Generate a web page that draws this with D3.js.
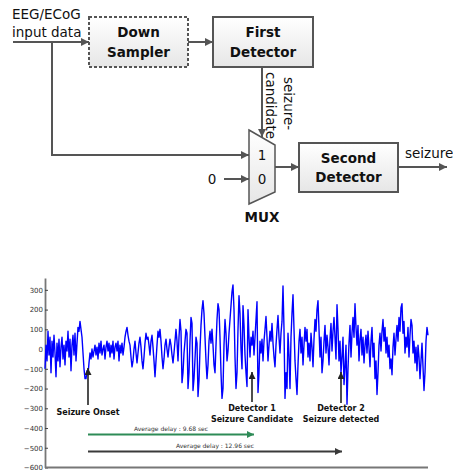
<!DOCTYPE html>
<html>
<head>
<meta charset="utf-8">
<script src="https://cdn.jsdelivr.net/npm/d3@7"></script>
<style>
  body { margin: 0; background: #fff; }
  svg { display: block; }
</style>
</head>
<body>
<div id="chart"></div>
<script>
// EEG trace (µV), one sample per pixel
const signal = [
  // before onset
  -100, 20, -60, 90, -30, 60, -120, 40, -40, 70, -20, -140, 30, -60, 50, -90, 10, 60, -50, 20,
  -80, 40, -10, 90, -40, 50, -110, 20, 70, -30, 80, -60, 30, 110, 90, 140, 100, 60, -20, -100, -150,
  // onset, low amplitude
  -150, -110, -130, -70, -20, -50, 0, -40, -10, 20, -30, 10, -50, 30, -20, 40, -30, 0, 20, -50,
  10, 40, -10, 30, -40, 20, -20, 40, -50, 10, 30, -10, 40, -60, 20, -20, 30, -30, 10, 60, 90, 110, 70,
  // growing rhythm
  40, 20, -40, -90, -60, 0, 40, -20, -70, -20, 30, 60, 10, -60, -100, -40, 30, 80, 50, 60,
  20, -30, 40, 70, 10, -60, -140, -60, 20, 90, 60, 100, 40, -40, -100, -50, 20, 50, 0, -40,
  10, 50, 20, -30, -70, -20, 40,
  // large swings
  100, 40, -60, 60, 150, 90, -170, -120, -20, 40, 100, 80, -200, -120, 40, 160, 130, -210, -150, -50,
  60, 30, -240, -160, 0, 120, 200, 245, 180, 60, -60, -150, -80, 40, 90, 30, 100, 20, -80, -120,
  20, 150, 230, 200, 60, -120, -250, -200, 20, 150, 80, -60, -10, 80, 150,
  220, 290, 325, 200, -40, -200, -120, 100, 270, 180, 0, -100, 220, 120, -30, -120, -190, 200, 60, -40,
  60, 20, 90, -30, 60, 150, 240, -220, -120, 40, -20, 50, -60, 40, 100, 165, 60, -60, 20, 90,
  40, 130, 30, -40, -90, 20, 100, 170, 60, -20, 80, 140, 320, 100, -250, -120, -200, 80, -30, -200,
  60, 180, 275, 100, -60, -150, -230, -80, 40, 100,
  // dense high-frequency part
  -20, 60, -80, 20, 110, 40, 100, -40, 30, -60, 80, 10, -90, 50, 150, 90, 200, 245, 100, -40,
  60, -120, -60, 40, 120, -20, 70, 10, -80, 50, 130, -10, 90, 160, 60, -50, 225, 100, -60, 40,
  -120, -40, 60, -180, -90, 20, -280, -100, 30, 120, -40, 80, 160, 60, 230, 110, 20, 120, -60, 50,
  100, -30, 60, -70, 20, 70, -20, 90, 10, -90, 40, 110, -40, 30, -150, -60, -230, -120, 20, 80,
  -10, 90, 150, 40, 110, -20, 60, -40, 20, -100, -50, -130, 10, 80, -30, 50, 120, 40, 160, 90,
  210, 230, 80, 140, -20, 60, 10, 110, -40, 70, 150, 120, -20, 40, -70, 10, -110, 20, -40, -150,
  -60, 30, -90, -210, -120, 40, 110, 70
];

const yTicks = [300, 200, 100, 0, -100, -200, -300, -400, -500, -600];

// markers on the trace: sample index and label lines
const eventIdx = [43, 207, 296];
const eventLines = [["Seizure Onset"], ["Detector 1", "Seizure Candidate"], ["Detector 2", "Seizure detected"]];

// delay arrows: from onset to detector
const delayFrom = [43, 43];
const delayTo = [209, 297];
const delayLabels = ["Average delay : 9.68 sec", "Average delay : 12.96 sec"];
const delayColors = ["#2e8b57", "#3a3a3a"];

const W = 453, H = 473;
const font = "DejaVu Sans, Verdana, sans-serif";
const lineCol = "#555";

const svg = d3.select("#chart").append("svg")
  .attr("width", W)
  .attr("height", H);

const defs = svg.append("defs");

const grad = defs.append("linearGradient")
  .attr("id", "boxfill")
  .attr("x1", 0).attr("y1", 0).attr("x2", 0).attr("y2", 1);
grad.append("stop").attr("offset", "0%").attr("stop-color", "#ffffff");
grad.append("stop").attr("offset", "100%").attr("stop-color", "#e6e6e6");

function marker(id, color, size) {
  defs.append("marker")
    .attr("id", id)
    .attr("viewBox", "0 0 10 10")
    .attr("refX", 10).attr("refY", 5)
    .attr("markerUnits", "userSpaceOnUse")
    .attr("markerWidth", size).attr("markerHeight", size)
    .attr("orient", "auto")
    .append("path")
    .attr("d", "M0,0 L10,5 L0,10 z")
    .attr("fill", color);
}
marker("arr", lineCol, 8);
marker("arrK", "#222", 7);
marker("arr0", delayColors[0], 7);
marker("arr1", delayColors[1], 7);

// ---------- block diagram ----------
const dg = svg.append("g");

function box(x, y, w, h, lines, dashed) {
  dg.append("rect")
    .attr("x", x).attr("y", y)
    .attr("width", w).attr("height", h)
    .attr("fill", "url(#boxfill)")
    .attr("stroke", lineCol)
    .attr("stroke-width", 2)
    .attr("stroke-dasharray", dashed ? "3,2" : null);
  lines.forEach((t, i) => {
    dg.append("text")
      .attr("x", x + w / 2)
      .attr("y", y + h / 2 + (i - (lines.length - 1) / 2) * 19.5)
      .attr("text-anchor", "middle")
      .attr("dominant-baseline", "central")
      .attr("font-family", font)
      .attr("font-weight", "bold")
      .attr("font-size", 13.5)
      .attr("fill", "#111")
      .text(t);
  });
}

function arrow(points) {
  dg.append("path")
    .attr("d", d3.line()(points))
    .attr("fill", "none")
    .attr("stroke", lineCol)
    .attr("stroke-width", 2)
    .attr("marker-end", "url(#arr)");
}

function label(x, y, t, anchor) {
  dg.append("text")
    .attr("x", x).attr("y", y)
    .attr("text-anchor", anchor || "start")
    .attr("font-family", font)
    .attr("font-size", 13.5)
    .attr("fill", "#111")
    .text(t);
}

label(12, 19, "EEG/ECoG");
label(12, 37, "input data");

arrow([[13, 42], [89, 42]]);
arrow([[52, 42], [52, 155], [249, 155]]);
arrow([[188, 42], [213, 42]]);
arrow([[262, 68], [262, 137]]);
arrow([[224, 179], [249, 179]]);
arrow([[275, 167], [299, 167]]);
arrow([[398, 167], [447, 167]]);

box(89, 17, 99, 50, ["Down", "Sampler"], true);
box(213, 17, 100, 50, ["First", "Detector"], false);
box(299, 143, 99, 49, ["Second", "Detector"], false);

// multiplexer
dg.append("path")
  .attr("d", "M249,130 L275,145 L275,192 L249,204 Z")
  .attr("fill", "url(#boxfill)")
  .attr("stroke", lineCol)
  .attr("stroke-width", 1.5);

[["1", 155], ["0", 179]].forEach(d => {
  dg.append("text")
    .attr("x", 262).attr("y", d[1])
    .attr("text-anchor", "middle")
    .attr("dominant-baseline", "central")
    .attr("font-family", font)
    .attr("font-size", 13.5)
    .attr("fill", "#111")
    .text(d[0]);
});
dg.append("text")
  .attr("x", 212).attr("y", 179)
  .attr("text-anchor", "middle")
  .attr("dominant-baseline", "central")
  .attr("font-family", font)
  .attr("font-size", 13.5)
  .attr("fill", "#111")
  .text("0");
dg.append("text")
  .attr("x", 262).attr("y", 222)
  .attr("text-anchor", "middle")
  .attr("font-family", font)
  .attr("font-weight", "bold")
  .attr("font-size", 13.5)
  .attr("fill", "#111")
  .text("MUX");

// vertical label along the candidate line
[["seizure-", 284, 77], ["candidate", 266, 72]].forEach(d => {
  dg.append("text")
    .attr("transform", `translate(${d[1]},${d[2]}) rotate(90)`)
    .attr("font-family", font)
    .attr("font-size", 13.5)
    .attr("fill", "#111")
    .text(d[0]);
});

label(405, 158, "seizure");

// ---------- EEG trace ----------
const x = d3.scaleLinear()
  .domain([0, signal.length - 1])
  .range([45, 428]);

const y = d3.scaleLinear()
  .domain([-600, 360])
  .range([467.5, 278]);

const cg = svg.append("g");

cg.append("g")
  .attr("transform", "translate(45,0)")
  .call(d3.axisLeft(y).tickValues(yTicks).tickSizeInner(-3).tickSizeOuter(0).tickPadding(2))
  .call(g => g.select(".domain").attr("stroke", "#777").attr("stroke-width", 1.8))
  .call(g => g.selectAll(".tick line").attr("stroke", "#444").attr("stroke-width", 1))
  .call(g => g.selectAll(".tick text")
    .attr("font-family", font)
    .attr("font-size", 7)
    .attr("fill", "#333"));

cg.append("line")
  .attr("x1", x.range()[0]).attr("x2", x.range()[1])
  .attr("y1", y(-600)).attr("y2", y(-600))
  .attr("stroke", "#777")
  .attr("stroke-width", 1.8);

cg.append("path")
  .datum(signal)
  .attr("d", d3.line().x((d, i) => x(i)).y(d => y(d)))
  .attr("fill", "none")
  .attr("stroke", "#0000ff")
  .attr("stroke-width", 1.4)
  .attr("stroke-linejoin", "round");

// event arrows and labels
const arrowTop = [368, 372, 372];
const arrowBottom = [405, 402, 403];
eventIdx.forEach((idx, i) => {
  cg.append("line")
    .attr("x1", x(idx)).attr("x2", x(idx))
    .attr("y1", arrowBottom[i]).attr("y2", arrowTop[i])
    .attr("stroke", "#222")
    .attr("stroke-width", 1.6)
    .attr("marker-end", "url(#arrK)");
  const yStart = eventLines[i].length === 1 ? 415 : 411;
  eventLines[i].forEach((t, j) => {
    cg.append("text")
      .attr("x", x(idx)).attr("y", yStart + j * 10.5)
      .attr("text-anchor", "middle")
      .attr("font-family", font)
      .attr("font-weight", "bold")
      .attr("font-size", 8)
      .attr("fill", "#111")
      .text(t);
  });
});

// delay arrows
const delayY = [434.5, 451.5];
delayLabels.forEach((t, i) => {
  cg.append("line")
    .attr("x1", x(delayFrom[i])).attr("x2", x(delayTo[i]))
    .attr("y1", delayY[i]).attr("y2", delayY[i])
    .attr("stroke", delayColors[i])
    .attr("stroke-width", 2)
    .attr("marker-end", `url(#arr${i})`);
  cg.append("text")
    .attr("x", (x(delayFrom[i]) + x(delayTo[i])) / 2)
    .attr("y", delayY[i] - 3.5)
    .attr("text-anchor", "middle")
    .attr("font-family", font)
    .attr("font-size", 6)
    .attr("fill", "#333")
    .text(t);
});
</script>
</body>
</html>
